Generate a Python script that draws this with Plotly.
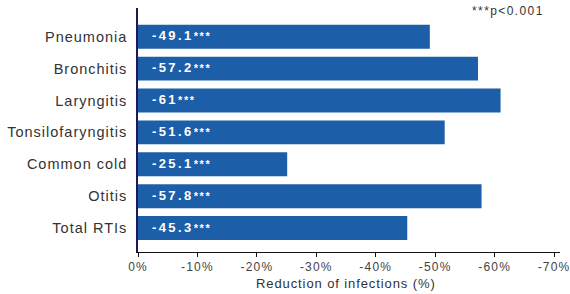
import plotly.graph_objects as go

categories = ["Total RTIs", "Otitis", "Common cold", "Tonsilofaryngitis",
              "Laryngitis", "Bronchitis", "Pneumonia"]
values = [-45.3, -57.8, -25.1, -51.6, -61, -57.2, -49.1]
tick_vals = [0, -10, -20, -30, -40, -50, -60, -70]
tick_text = ["0%", "-10%", "-20%", "-30%", "-40%", "-50%", "-60%", "-70%"]

FONT = "Liberation Sans, Arial, Helvetica, sans-serif"


def spaced(s, ls):
    return f"<span style='letter-spacing:{ls}px'>{s}</span>"


fig = go.Figure()
fig.add_trace(go.Bar(
    x=values, y=categories, orientation="h",
    marker=dict(color="#1c5ea8", line=dict(width=0)),
    width=0.75, hoverinfo="skip",
))

for cat, v in zip(categories, values):
    fig.add_annotation(
        x=0, y=cat, xref="x", yref="y", xanchor="left", yanchor="middle",
        xshift=12, yshift=1, showarrow=False,
        text=(f"<span style='letter-spacing:2.4px'><b>{v:g}</b></span>"
              f"<span style='font-size:11px;letter-spacing:1.6px'><b>***</b></span>"),
        font=dict(family=FONT, size=13, color="white"),
    )

fig.add_annotation(
    x=1, y=1, xref="paper", yref="paper", xanchor="right", yanchor="middle",
    xshift=-14, yshift=-3, showarrow=False, text=spaced("***p<0.001", 1.4),
    font=dict(family=FONT, size=12, color="#333333"),
)

fig.add_annotation(
    x=-35, y=0, xref="x", yref="paper", xanchor="center", yanchor="middle",
    yshift=-31, showarrow=False, text=spaced("Reduction of infections (%)", 0.9),
    font=dict(family=FONT, size=13, color="#333333"),
)

fig.update_layout(
    width=570, height=294,
    margin=dict(l=138, r=10, t=8, b=42),
    paper_bgcolor="white", plot_bgcolor="white",
    showlegend=False,
    font=dict(family=FONT, color="#333333"),
    xaxis=dict(
        range=[0, -71], tickvals=tick_vals,
        ticktext=[spaced(t, 1.2) for t in tick_text],
        showgrid=False, zeroline=False, showline=True, linecolor="#111111", linewidth=1,
        ticks="outside", ticklen=4, tickcolor="#111111",
        tickfont=dict(size=12, color="#444444"),
        ticklabeloverflow="allow",
        automargin=False, fixedrange=True,
    ),
    yaxis=dict(
        categoryorder="array", categoryarray=categories,
        tickmode="array", tickvals=categories,
        ticktext=[spaced(c, 1.0) for c in categories],
        range=[-0.75, 6.9], showgrid=False, zeroline=False,
        showline=True, linecolor="#1a1a5a", linewidth=1.5,
        ticks="", tickfont=dict(size=14.5, color="#333333"), ticklabelstandoff=6,
        automargin=False, fixedrange=True,
    ),
)

fig.write_html("out.html", config={"displayModeBar": False},
               post_script="document.body.style.margin='0';")
